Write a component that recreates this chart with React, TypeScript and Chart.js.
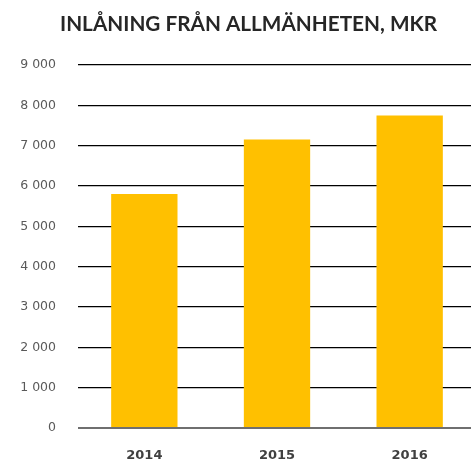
import React, { useEffect, useRef } from "react";
import { Chart, registerables } from "chart.js";

Chart.register(...registerables);

const TITLE = "INLÅNING FRÅN ALLMÄNHETEN, MKR";
const categories = ["2014", "2015", "2016"];
const values = [5800, 7150, 7750];
const yMin = 0;
const yMax = 9000;
const yStep = 1000;

const formatTick = (v: number) => String(v).replace(/\B(?=(\d{3})+(?!\d))/g, " ");

const titlePlugin = {
  id: "customTitle",
  afterDraw(chart: any) {
    const ctx = chart.ctx as CanvasRenderingContext2D;
    ctx.save();
    ctx.font = 'bold 20px Lato';
    const w = ctx.measureText(TITLE).width;
    const sx = 377 / w;
    ctx.translate(248.5, 25);
    ctx.scale(sx, 1);
    ctx.textAlign = "center";
    ctx.textBaseline = "middle";
    ctx.fillStyle = "#262626";
    ctx.fillText(TITLE, 0, 0);
    ctx.restore();
  },
};

export default function App() {
  const ref = useRef<HTMLCanvasElement>(null);
  useEffect(() => {
    if (!ref.current) return;
    const chart = new Chart(ref.current, {
      type: "bar",
      data: {
        labels: categories,
        datasets: [
          {
            data: values,
            backgroundColor: "#FFC000",
            borderWidth: 0,
            barPercentage: 0.5,
            categoryPercentage: 1,
          },
        ],
      },
      plugins: [titlePlugin],
      options: {
        responsive: false,
        animation: false,
        layout: { padding: { top: 65, right: 0, left: 0, bottom: 0 } },
        plugins: { legend: { display: false }, title: { display: false }, tooltip: { enabled: false } },
        scales: {
          y: {
            min: yMin,
            max: yMax,
            afterFit: (s: any) => {
              s.width = 78;
            },
            border: { display: false },
            grid: {
              drawTicks: false,
              color: (c: any) => (c.tick && c.tick.value === 0 ? "#6f6f6f" : "#000000"),
              lineWidth: (c: any) => (c.tick && c.tick.value === 0 ? 2 : 1.2),
            },
            ticks: {
              stepSize: yStep,
              padding: 22,
              color: "#595959",
              font: { family: '"DejaVu Sans"', size: 12.5 },
              callback: (v: any) => formatTick(Number(v)),
            },
          },
          x: {
            afterFit: (s: any) => {
              s.height = 35;
            },
            border: { display: false },
            grid: { display: false, drawTicks: false },
            ticks: {
              padding: 20,
              color: "#404040",
              font: { family: '"DejaVu Sans"', size: 13, weight: "bold" },
            },
          },
        },
      },
    });
    return () => chart.destroy();
  }, []);
  return (
    <div style={{ position: "absolute", left: 0, top: 0, width: 471, height: 463, overflow: "hidden", background: "#fff" }}>
      <canvas ref={ref} width={476} height={463} style={{ display: "block" }} />
    </div>
  );
}
